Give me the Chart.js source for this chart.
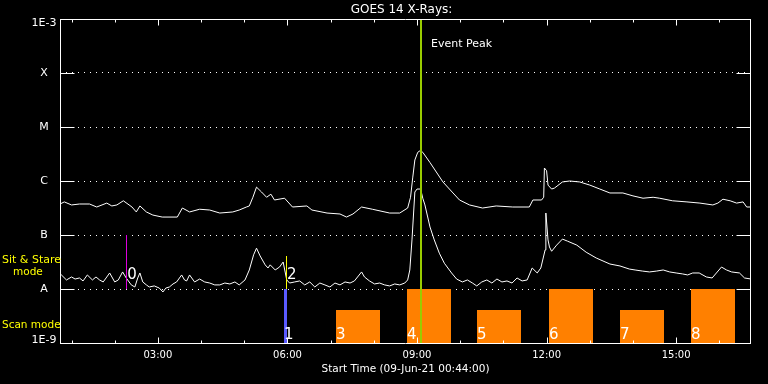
<!DOCTYPE html>
<html>
<head>
<meta charset="utf-8">
<script src="https://cdn.jsdelivr.net/npm/chart.js@4.4.1/dist/chart.umd.min.js"></script>
<style>
  html, body { margin: 0; padding: 0; background: #000; }
</style>
</head>
<body>
<canvas id="goes" width="768" height="384"></canvas>
<script>
// GOES 14 X-ray flux (W/m^2), 09-Jun-21, times are UT hh:mm
const startTime = '00:44';
const endTime = '16:44';

// long channel (1-8 A)
const longTimes = ['00:44','00:50','01:00','01:11','01:25','01:35','01:49','01:56','02:03','02:12',
  '02:24','02:30','02:35','02:44','02:53','03:06','03:27','03:34','03:44','03:58',
  '04:12','04:26','04:44','04:53','05:03','05:07','05:12','05:17','05:24','05:31',
  '05:37','05:42','05:56','06:07','06:27','06:34','06:55','07:13','07:22','07:31',
  '07:43','07:58','08:22','08:36','08:47','08:51','08:54','08:57','09:01','09:05',
  '09:08','09:18','09:36','09:50','09:59','10:13','10:31','10:50','11:13','11:36',
  '11:41','11:53','11:56','11:57','12:00','12:02','12:07','12:11','12:22','12:32',
  '12:46','13:00','13:14','13:28','13:46','14:00','14:14','14:28','14:37','14:55',
  '15:15','15:33','15:51','15:58','16:05','16:15','16:24','16:33','16:38','16:44'];
const longFlux = [3.75e-7,4.1e-7,3.6e-7,3.75e-7,3.75e-7,3.3e-7,3.9e-7,3.45e-7,3.6e-7,4.3e-7,
  3.3e-7,2.67e-7,3.45e-7,2.67e-7,2.34e-7,2.15e-7,2.15e-7,3.16e-7,2.67e-7,3.0e-7,
  2.9e-7,2.55e-7,2.67e-7,2.9e-7,3.3e-7,3.45e-7,5.0e-7,7.7e-7,6.25e-7,5.0e-7,
  5.7e-7,4.45e-7,4.8e-7,3.3e-7,3.45e-7,2.9e-7,2.55e-7,2.45e-7,2.15e-7,2.45e-7,
  3.3e-7,3.0e-7,2.55e-7,2.55e-7,3.16e-7,5.0e-7,1.14e-6,2.45e-6,3.4e-6,3.7e-6,
  3.4e-6,2.2e-6,9.6e-7,6.0e-7,4.45e-7,3.6e-7,3.16e-7,3.45e-7,3.3e-7,3.3e-7,
  4.45e-7,4.45e-7,5.0e-7,1.74e-6,1.55e-6,8.4e-7,7.1e-7,7.4e-7,9.6e-7,1.0e-6,
  9.6e-7,8.4e-7,7.1e-7,6.0e-7,6.0e-7,5.3e-7,4.8e-7,5.0e-7,4.8e-7,4.3e-7,
  4.1e-7,3.9e-7,3.6e-7,3.9e-7,4.6e-7,4.3e-7,3.9e-7,4.1e-7,3.3e-7,3.3e-7];

// short channel (0.5-4 A)
const shortTimes = ['00:44','00:46','00:53','01:00','01:05','01:11','01:16','01:22','01:29','01:34',
  '01:39','01:44','01:49','01:53','02:00','02:05','02:11','02:16','02:23','02:28',
  '02:32','02:35','02:39','02:44','02:48','02:55','03:02','03:07','03:11','03:16',
  '03:21','03:26','03:33','03:37','03:40','03:44','03:51','03:58','04:05','04:12',
  '04:19','04:26','04:33','04:40','04:47','04:53','05:01','05:07','05:13','05:17',
  '05:22','05:29','05:33','05:36','05:43','05:49','05:54','05:59','06:03','06:10',
  '06:17','06:24','06:31','06:38','06:45','06:52','06:59','07:06','07:13','07:20',
  '07:27','07:33','07:43','07:47','07:54','08:01','08:08','08:15','08:22','08:29',
  '08:36','08:43','08:47','08:50','08:53','08:57','09:00','09:05','09:08','09:11',
  '09:18','09:24','09:31','09:38','09:48','09:55','10:03','10:10','10:17','10:23',
  '10:30','10:37','10:44','10:51','10:58','11:05','11:12','11:19','11:26','11:33',
  '11:40','11:47','11:52','11:58','11:59','12:02','12:04','12:07','12:14','12:22',
  '12:29','12:42','12:55','13:09','13:28','13:42','13:55','14:03','14:13','14:23',
  '14:33','14:42','14:51','15:00','15:09','15:16','15:23','15:32','15:42','15:50',
  '16:03','16:10','16:17','16:28','16:35','16:44'];
const shortFlux = [1.82e-8,1.82e-8,1.47e-8,1.67e-8,1.53e-8,1.6e-8,1.41e-8,1.82e-8,1.47e-8,1.67e-8,
  1.47e-8,1.35e-8,1.67e-8,1.98e-8,1.35e-8,1.47e-8,2.07e-8,1.6e-8,1.19e-8,1.09e-8,
  1.6e-8,1.98e-8,1.35e-8,1.19e-8,1.09e-8,1.14e-8,1.04e-8,8.8e-9,1.04e-8,1.09e-8,
  1.24e-8,1.35e-8,1.82e-8,1.47e-8,1.41e-8,1.82e-8,1.35e-8,1.53e-8,1.35e-8,1.29e-8,
  1.19e-8,1.19e-8,1.29e-8,1.24e-8,1.35e-8,1.19e-8,1.47e-8,2.25e-8,4.3e-8,5.7e-8,
  4.1e-8,2.8e-8,2.45e-8,2.8e-8,2.25e-8,2.55e-8,3.16e-8,1.47e-8,1.29e-8,1.35e-8,
  1.41e-8,1.19e-8,1.35e-8,1.09e-8,1.29e-8,1.19e-8,1.09e-8,1.29e-8,1.19e-8,1.35e-8,
  1.29e-8,1.41e-8,2.07e-8,1.67e-8,1.41e-8,1.24e-8,1.29e-8,1.19e-8,1.14e-8,1.24e-8,
  1.19e-8,1.29e-8,1.47e-8,2.25e-8,8.1e-8,6.25e-7,7.1e-7,7.1e-7,4.8e-7,3.6e-7,
  1.41e-7,8.1e-8,4.6e-8,3.0e-8,1.98e-8,1.53e-8,1.35e-8,1.47e-8,1.29e-8,1.14e-8,
  1.35e-8,1.47e-8,1.29e-8,1.53e-8,1.35e-8,1.41e-8,1.29e-8,1.6e-8,1.41e-8,1.47e-8,
  2.45e-8,1.98e-8,2.45e-8,5.3e-8,2.55e-7,8.1e-8,6.0e-8,5.0e-8,6.5e-8,8.4e-8,
  7.7e-8,6.5e-8,4.8e-8,3.75e-8,2.9e-8,2.67e-8,2.34e-8,2.25e-8,2.15e-8,2.07e-8,
  2.15e-8,2.25e-8,2.07e-8,1.98e-8,1.9e-8,1.82e-8,1.98e-8,1.98e-8,1.67e-8,1.6e-8,
  2.55e-8,2.25e-8,2.07e-8,1.98e-8,1.6e-8,1.53e-8];

const yTickValues = [1e-3, 1e-4, 1e-5, 1e-6, 1e-7, 1e-8, 1e-9];
const yTickLabels = ['1E-3', 'X', 'M', 'C', 'B', 'A', '1E-9'];
const xTickHours = [3, 6, 9, 12, 15];
const xTickLabels = ['03:00', '06:00', '09:00', '12:00', '15:00'];

const eventPeak = '09:06';

// sit & stare markers
const markerTimes = ['02:16', '05:58'];
const markerTops = [1e-7, 4.1e-8];
const markerLabels = ['0', '2'];
const markerColors = ['#dd00dd', '#ffff00'];

// scan mode blocks
const scanLabels = ['1', '3', '4', '5', '6', '7', '8'];
const scanStart = ['05:55', '07:08', '08:46', '10:24', '12:03', '13:42', '15:20'];
const scanEnd = ['05:59', '08:09', '09:47', '11:25', '13:04', '14:43', '16:22'];
const scanTop = [1e-8, 4e-9, 1e-8, 4e-9, 1e-8, 4e-9, 1e-8];
const scanColors = ['#5a5aff', '#ff8000', '#ff8000', '#ff8000', '#ff8000', '#ff8000', '#ff8000'];

function hours(t) {
  const p = t.split(':').map(Number);
  return p[0] + p[1] / 60;
}
const half = v => Math.round(v) + 0.5;

const decor = {
  id: 'decor',
  beforeDatasetsDraw(chart) {
    const {ctx, scales: {x, y}} = chart;
    const base = Math.round(y.getPixelForValue(1e-9)) + 1;
    ctx.save();
    scanStart.forEach((t, i) => {
      const x0 = Math.round(x.getPixelForValue(hours(t)));
      const x1 = Math.round(x.getPixelForValue(hours(scanEnd[i])));
      const y0 = Math.round(y.getPixelForValue(scanTop[i]));
      ctx.fillStyle = scanColors[i];
      ctx.fillRect(x0, y0, x1 - x0, base - y0);
    });
    ctx.restore();
  },
  afterDatasetsDraw(chart) {
    const {ctx, chartArea: a, scales: {x, y}} = chart;
    const aLine = y.getPixelForValue(1e-8);
    const top = half(a.top), bottom = half(a.bottom), left = half(a.left), right = half(a.right - 1);
    ctx.save();

    markerTimes.forEach((t, i) => {
      const mx = half(x.getPixelForValue(hours(t)));
      ctx.strokeStyle = markerColors[i];
      ctx.lineWidth = 1;
      ctx.beginPath();
      ctx.moveTo(mx, Math.round(y.getPixelForValue(markerTops[i])));
      ctx.lineTo(mx, Math.round(aLine));
      ctx.stroke();
    });

    const ex = Math.round(x.getPixelForValue(hours(eventPeak)));
    ctx.strokeStyle = '#99cc00';
    ctx.lineWidth = 2;
    ctx.beginPath();
    ctx.moveTo(ex, a.top);
    ctx.lineTo(ex, a.bottom);
    ctx.stroke();

    // frame + ticks
    ctx.strokeStyle = '#fff';
    ctx.lineWidth = 1;
    ctx.beginPath();
    ctx.moveTo(left, top); ctx.lineTo(right, top); ctx.lineTo(right, bottom);
    ctx.lineTo(left, bottom); ctx.closePath();
    yTickValues.forEach(v => {
      const yy = half(y.getPixelForValue(v));
      ctx.moveTo(left, yy); ctx.lineTo(left + 14, yy);
      ctx.moveTo(right - 14, yy); ctx.lineTo(right, yy);
    });
    for (let h = Math.ceil(x.min); h <= x.max; h++) {
      const xx = half(x.getPixelForValue(h));
      const len = xTickHours.includes(h) ? 6 : 3;
      ctx.moveTo(xx, top); ctx.lineTo(xx, top + len);
      ctx.moveTo(xx, bottom); ctx.lineTo(xx, bottom - len);
    }
    ctx.stroke();

    // texts
    ctx.fillStyle = '#fff';
    ctx.textBaseline = 'alphabetic';
    ctx.textAlign = 'left';
    ctx.font = '15px "DejaVu Sans"';
    markerTimes.forEach((t, i) => {
      ctx.fillText(markerLabels[i], x.getPixelForValue(hours(t)) + 1, aLine - 10.5);
    });
    scanStart.forEach((t, i) => {
      ctx.fillText(scanLabels[i], Math.round(x.getPixelForValue(hours(t))), a.bottom - 4);
    });
    ctx.font = '11px "DejaVu Sans"';
    ctx.fillText('Event Peak', ex + 10, a.top + 27.5);

    ctx.textAlign = 'center';
    ctx.textBaseline = 'middle';
    yTickValues.forEach((v, i) => {
      const yy = Math.min(Math.max(y.getPixelForValue(v) + 0.5, a.top + 4), a.bottom - 3);
      ctx.fillText(yTickLabels[i], 44, yy);
    });

    ctx.textBaseline = 'alphabetic';
    ctx.font = '12px "DejaVu Sans"';
    ctx.fillText('GOES 14 X-Rays:', (a.left + a.right) / 2 - 4, 13);

    ctx.fillStyle = '#ffff00';
    ctx.textAlign = 'left';
    ctx.font = '11px "DejaVu Sans"';
    ctx.fillText('Sit & Stare', 2, aLine - 26);
    ctx.font = '10.5px "DejaVu Sans"';
    ctx.fillText('mode', 13, aLine - 14);
    ctx.fillText('Scan mode', 2, a.bottom - 15);
    ctx.restore();
  }
};

new Chart(document.getElementById('goes'), {
  type: 'line',
  data: {
    datasets: [
      {
        label: 'long',
        data: longTimes.map((t, i) => ({x: hours(t), y: longFlux[i]})),
        borderColor: '#fff',
        borderWidth: 1,
        pointRadius: 0,
        tension: 0
      },
      {
        label: 'short',
        data: shortTimes.map((t, i) => ({x: hours(t), y: shortFlux[i]})),
        borderColor: '#fff',
        borderWidth: 1,
        pointRadius: 0,
        tension: 0
      }
    ]
  },
  options: {
    responsive: false,
    animation: false,
    events: [],
    layout: {padding: {top: 19, right: 17, left: 0, bottom: 0}},
    plugins: {legend: {display: false}, tooltip: {enabled: false}},
    scales: {
      x: {
        type: 'linear',
        min: hours(startTime),
        max: hours(endTime),
        afterBuildTicks: s => { s.ticks = xTickHours.map(v => ({value: v})); },
        afterFit: s => { s.height = 41; },
        grid: {display: false, drawTicks: false},
        border: {display: false},
        ticks: {
          color: '#fff',
          font: {family: 'DejaVu Sans', size: 10},
          padding: 6,
          maxRotation: 0,
          autoSkip: false,
          callback: (v, i) => xTickLabels[i]
        },
        title: {
          display: true,
          text: 'Start Time (09-Jun-21 00:44:00)',
          color: '#fff',
          font: {family: 'DejaVu Sans', size: 10.5},
          padding: {top: 0, bottom: 8.5}
        }
      },
      y: {
        type: 'logarithmic',
        min: 1e-9,
        max: 1e-3,
        afterBuildTicks: s => { s.ticks = yTickValues.map(v => ({value: v})); },
        afterFit: s => { s.width = 60; },
        grid: {color: '#fff', lineWidth: 1, drawTicks: false},
        border: {display: false, dash: [1, 5]},
        ticks: {display: false}
      }
    }
  },
  plugins: [decor]
});
</script>
</body>
</html>
